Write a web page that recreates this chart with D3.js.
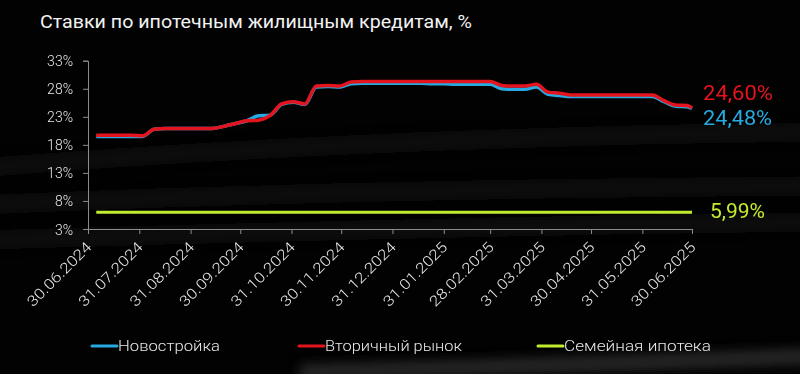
<!DOCTYPE html>
<html>
<head>
<meta charset="utf-8">
<script src="https://cdn.jsdelivr.net/npm/d3@7"></script>
<style>
  html, body { margin: 0; padding: 0; background: #000; }
  svg { display: block; }
  text { font-family: Roboto, "Noto Sans", sans-serif; }
</style>
</head>
<body>
<svg id="chart" width="800" height="374"></svg>
<script>
const title = "Ставки по ипотечным жилищным кредитам, %";

const dates = [
  "2024-07-05", "2024-07-12", "2024-07-19", "2024-07-26", "2024-08-02", "2024-08-09",
  "2024-08-16", "2024-08-23", "2024-08-30", "2024-09-06", "2024-09-13", "2024-09-20",
  "2024-09-27", "2024-10-04", "2024-10-11", "2024-10-18", "2024-10-25", "2024-11-01",
  "2024-11-08", "2024-11-15", "2024-11-22", "2024-11-29", "2024-12-06", "2024-12-13",
  "2024-12-20", "2024-12-27", "2025-01-03", "2025-01-10", "2025-01-17", "2025-01-24",
  "2025-01-31", "2025-02-07", "2025-02-14", "2025-02-21", "2025-02-28", "2025-03-07",
  "2025-03-14", "2025-03-21", "2025-03-28", "2025-04-04", "2025-04-11", "2025-04-18",
  "2025-04-25", "2025-05-02", "2025-05-09", "2025-05-16", "2025-05-23", "2025-05-30",
  "2025-06-06", "2025-06-13", "2025-06-20", "2025-06-27", "2025-06-30"
];

const novostroika = [
  19.5, 19.5, 19.5, 19.5, 19.5, 20.8, 20.9, 20.9, 20.9, 20.9, 20.9, 21.3,
  21.8, 22.3, 23.2, 23.3, 25.2, 25.6, 25.2, 28.3, 28.4, 28.3, 28.9, 29.0,
  29.0, 29.0, 29.0, 29.0, 29.0, 28.9, 28.9, 28.8, 28.8, 28.8, 28.8, 28.0,
  27.9, 27.9, 28.3, 27.0, 26.8, 26.6, 26.6, 26.6, 26.6, 26.6, 26.6, 26.6,
  26.6, 25.7, 24.9, 24.8, 24.48
];

const vtorichny = [
  19.7, 19.7, 19.7, 19.7, 19.6, 20.8, 20.9, 20.9, 20.9, 20.9, 20.9, 21.3,
  21.8, 22.3, 22.4, 23.2, 25.3, 25.7, 25.3, 28.5, 28.6, 28.5, 29.2, 29.3,
  29.3, 29.3, 29.3, 29.3, 29.3, 29.3, 29.3, 29.3, 29.3, 29.3, 29.3, 28.6,
  28.5, 28.5, 28.8, 27.4, 27.2, 26.9, 26.9, 26.9, 26.9, 26.9, 26.9, 26.9,
  26.9, 25.9, 25.1, 25.0, 24.6
];

const semDates = ["2024-07-05", "2025-06-30"];
const semeynaya = [5.99, 5.99];

const xTicks = [
  "2024-06-30", "2024-07-31", "2024-08-31", "2024-09-30", "2024-10-31", "2024-11-30",
  "2024-12-31", "2025-01-31", "2025-02-28", "2025-03-31", "2025-04-30", "2025-05-31",
  "2025-06-30"
];
const yTicks = [3, 8, 13, 18, 23, 28, 33];

const seriesNames = ["Новостройка", "Вторичный рынок", "Семейная ипотека"];
const lastLabels = ["24,48%", "24,60%", "5,99%"];
const colors = ["#27a9e1", "#e3141e", "#c2ec30"];

const parse = d3.timeParse("%Y-%m-%d");
const fmt = d3.timeFormat("%d.%m.%Y");

const svg = d3.select("#chart");

// background streaks
const defs = svg.append("defs");
defs.append("filter").attr("id", "blur").attr("x", "-20%").attr("y", "-200%")
  .attr("width", "140%").attr("height", "500%")
  .append("feGaussianBlur").attr("stdDeviation", 6);
svg.append("rect").attr("width", 800).attr("height", 374).attr("fill", "#020202");
const streaks = svg.append("g").attr("filter", "url(#blur)");
[
  "M-20,168 C200,150 500,135 820,132",
  "M-20,205 C200,195 500,188 820,186",
  "M-20,240 C250,232 550,225 820,222",
  "M300,372 C500,368 650,362 820,356"
].forEach((d, i) => {
  streaks.append("path").attr("d", d).attr("fill", "none")
    .attr("stroke", i === 3 ? "#3a3a3a" : "#1a1a1a")
    .attr("stroke-width", i === 3 ? 14 : 12)
    .attr("opacity", 0.7);
});

const x = d3.scaleTime()
  .domain([parse("2024-06-30"), parse("2025-06-30")])
  .range([88, 692]);
const y = d3.scaleLinear().domain([3, 33]).range([229, 60.7]);

svg.append("text")
  .attr("x", 40).attr("y", 28)
  .attr("fill", "#f2f2f2")
  .attr("font-size", 18)
  .attr("textLength", 432)
  .attr("lengthAdjust", "spacingAndGlyphs")
  .text(title);

// axes
const yAxis = svg.append("g").attr("transform", "translate(88,0)")
  .call(d3.axisLeft(y).tickValues(yTicks).tickSize(5).tickFormat(d => d + "%"));
yAxis.select(".domain").attr("stroke", "#8c8c8c");
yAxis.selectAll(".tick line").attr("stroke", "#8c8c8c");
yAxis.selectAll(".tick text")
  .attr("fill", "#e8e8e8").attr("font-size", 14).attr("font-weight", 300)
  .attr("x", -15).attr("dy", "0.36em")
  .attr("font-family", "Roboto, 'Noto Sans', sans-serif");

const xAxis = svg.append("g").attr("transform", "translate(0,229)")
  .call(d3.axisBottom(x).tickValues(xTicks.map(parse)).tickSize(5).tickFormat(fmt));
xAxis.select(".domain").attr("stroke", "#8c8c8c");
xAxis.selectAll(".tick line").attr("stroke", "#8c8c8c");
xAxis.selectAll(".tick text")
  .attr("fill", "#e8e8e8").attr("font-size", 14.5).attr("font-weight", 300)
  .attr("font-family", "Roboto, 'Noto Sans', sans-serif")
  .attr("text-anchor", "end")
  .attr("y", 0).attr("dy", 0)
  .attr("textLength", 84).attr("lengthAdjust", "spacingAndGlyphs")
  .attr("transform", "translate(4,19) rotate(-45)");

// lines
const line = d3.line()
  .x(d => x(d[0]))
  .y(d => y(d[1]))
  .curve(d3.curveMonotoneX);

const series = [
  dates.map((d, i) => [parse(d), novostroika[i]]),
  dates.map((d, i) => [parse(d), vtorichny[i]]),
  semDates.map((d, i) => [parse(d), semeynaya[i]])
];

series.forEach((s, i) => {
  svg.append("path")
    .datum(s)
    .attr("fill", "none")
    .attr("stroke", colors[i])
    .attr("stroke-width", i === 2 ? 3 : 3.5)
    .attr("stroke-linejoin", "round")
    .attr("d", line);
});

// end labels
const endLabelY = [125, 100, 218];
const endLabelX = [703, 703, 710];
const endLabelW = [69, 70, 55];
lastLabels.forEach((t, i) => {
  svg.append("text")
    .attr("x", endLabelX[i]).attr("y", endLabelY[i])
    .attr("fill", colors[i])
    .attr("font-size", 20)
    .attr("textLength", endLabelW[i])
    .attr("lengthAdjust", "spacingAndGlyphs")
    .text(t);
});

// legend
const legX = [92, 299, 538];
const legW = [102, 137, 147];
const leg = svg.append("g");
seriesNames.forEach((n, i) => {
  leg.append("line")
    .attr("x1", legX[i]).attr("x2", legX[i] + 25)
    .attr("y1", 346).attr("y2", 346)
    .attr("stroke", colors[i]).attr("stroke-width", 3)
    .attr("stroke-linecap", "round");
  leg.append("text")
    .attr("x", legX[i] + 26).attr("y", 351)
    .attr("fill", "#e8e8e8")
    .attr("font-size", 15)
    .attr("font-weight", 300)
    .attr("textLength", legW[i])
    .attr("lengthAdjust", "spacingAndGlyphs")
    .text(n);
});
</script>
</body>
</html>
